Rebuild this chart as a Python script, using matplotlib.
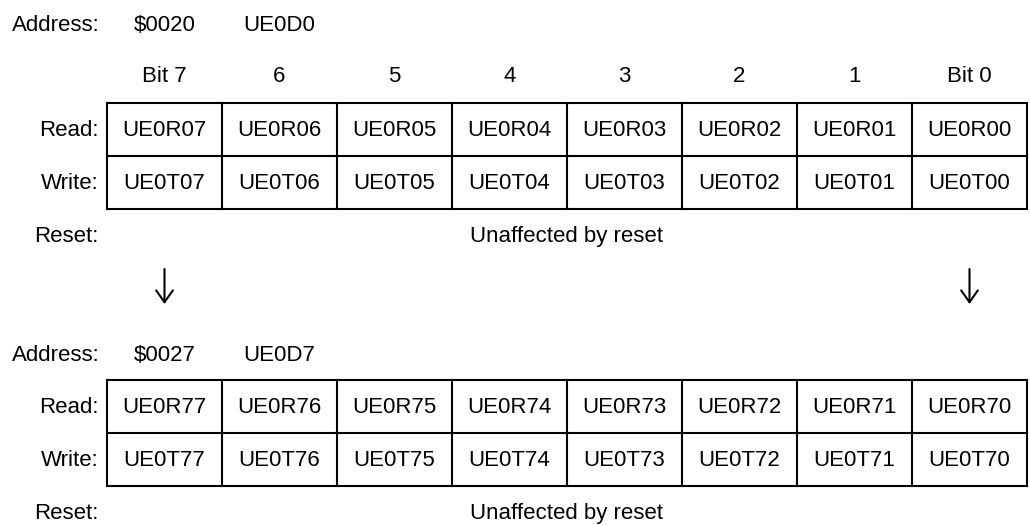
"""
Register map: UE0 data registers $0020 .. $0027
"""
import matplotlib
matplotlib.use("Agg")
import matplotlib.pyplot as plt

plt.rcParams['font.family'] = ['Liberation Sans', 'DejaVu Sans']

# data
bit_labels = ["Bit 7", "6", "5", "4", "3", "2", "1", "Bit 0"]
row_labels = ["Read:", "Write:"]
reset_text = "Unaffected by reset"

reg0_address = "$0020"
reg0_name = "UE0D0"
reg0_read = ["UE0R07", "UE0R06", "UE0R05", "UE0R04", "UE0R03", "UE0R02", "UE0R01", "UE0R00"]
reg0_write = ["UE0T07", "UE0T06", "UE0T05", "UE0T04", "UE0T03", "UE0T02", "UE0T01", "UE0T00"]

reg7_address = "$0027"
reg7_name = "UE0D7"
reg7_read = ["UE0R77", "UE0R76", "UE0R75", "UE0R74", "UE0R73", "UE0R72", "UE0R71", "UE0R70"]
reg7_write = ["UE0T77", "UE0T76", "UE0T75", "UE0T74", "UE0T73", "UE0T72", "UE0T71", "UE0T70"]

# layout in pixels (y grows downward)
W, H = 1030, 525
X0 = 107          # left edge of table
CW = 115          # cell width
RH = 53           # row height
LABEL_X = 99      # right edge of row labels
FS = 16
LW = 1.5

fig = plt.figure(figsize=(W / 100, H / 100), dpi=100)
ax = fig.add_axes([0, 0, 1, 1])
ax.set_xlim(0, W)
ax.set_ylim(H, 0)
ax.axis('off')


def col_center(i):
    return X0 + CW * (i + 0.5)


def draw_register(top, address, name, read, write, header_y=None):
    # address line sits above the table (or above the bit header)
    addr_y = top - 19 if header_y is None else header_y - 51
    ax.text(LABEL_X + 1, addr_y, "Address:", ha='right', va='baseline', fontsize=FS)
    ax.text(col_center(0), addr_y, address, ha='center', va='baseline', fontsize=FS)
    ax.text(col_center(1), addr_y, name, ha='center', va='baseline', fontsize=FS)

    if header_y is not None:
        for i, b in enumerate(bit_labels):
            ax.text(col_center(i), header_y, b, ha='center', va='baseline', fontsize=FS)

    n = len(read)
    right = X0 + CW * n
    for r in range(3):
        ax.plot([X0, right], [top + r * RH, top + r * RH], color='black', lw=LW,
                solid_capstyle='projecting')
    for c in range(n + 1):
        ax.plot([X0 + c * CW, X0 + c * CW], [top, top + 2 * RH], color='black', lw=LW,
                solid_capstyle='projecting')

    for r, (lab, cells) in enumerate(zip(row_labels, [read, write])):
        base = top + r * RH + 33
        ax.text(LABEL_X, base, lab, ha='right', va='baseline', fontsize=FS)
        for i, t in enumerate(cells):
            ax.text(col_center(i), base, t, ha='center', va='baseline', fontsize=FS)

    reset_y = top + 2 * RH + 33
    ax.text(LABEL_X, reset_y, "Reset:", ha='right', va='baseline', fontsize=FS)
    ax.text(X0 + CW * n / 2, reset_y, reset_text, ha='center', va='baseline', fontsize=FS)


draw_register(103, reg0_address, reg0_name, reg0_read, reg0_write, header_y=82)

# arrows from first to last register
for i in (0, len(bit_labels) - 1):
    ax.annotate('', xy=(col_center(i), 304), xytext=(col_center(i), 269),
                arrowprops=dict(arrowstyle='->,head_length=0.85,head_width=0.6',
                                lw=1.5, color='black', shrinkA=0, shrinkB=0))

draw_register(380, reg7_address, reg7_name, reg7_read, reg7_write)

plt.savefig('out.png', dpi=100, facecolor='white')
